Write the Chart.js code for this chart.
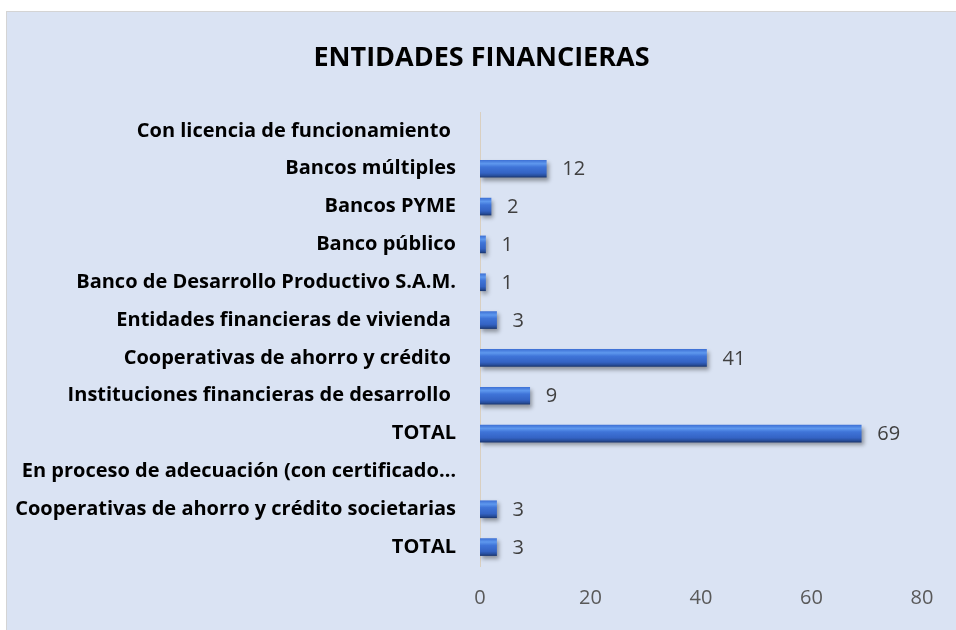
<!DOCTYPE html>
<html>
<head>
<meta charset="utf-8">
<script src="https://cdn.jsdelivr.net/npm/chart.js@4"></script>
<style>
  html, body { margin: 0; padding: 0; background: #ffffff; overflow: hidden; }
  #wrap {
    position: absolute; left: 6px; top: 11px; width: 950px; height: 619px;
    background: #dae3f3; border-left: 1px solid #d4d4d4; border-top: 1px solid #d4d4d4;
    box-sizing: border-box; overflow: hidden;
  }
  canvas { display: block; }
</style>
</head>
<body>
<div id="wrap"><canvas id="finChart" width="949" height="618"></canvas></div>
<script>
// categories and values
const categories = [
    'Con licencia de funcionamiento ',
    'Bancos múltiples',
    'Bancos PYME',
    'Banco público',
    'Banco de Desarrollo Productivo S.A.M.',
    'Entidades financieras de vivienda ',
    'Cooperativas de ahorro y crédito ',
    'Instituciones financieras de desarrollo ',
    'TOTAL',
    'En proceso de adecuación (con certificado…',
    'Cooperativas de ahorro y crédito societarias',
    'TOTAL'
];
const entidades = [null, 12, 2, 1, 1, 3, 41, 9, 69, null, 3, 3];
const xTicks = [0, 20, 40, 60, 80];

const BAR_H = 17;

function barFill(ctx) {
    const chart = ctx.chart;
    if (!chart.chartArea) return '#3b6fd3';
    const y = chart.scales.y.getPixelForValue(ctx.dataIndex);
    const g = chart.ctx.createLinearGradient(0, y - BAR_H / 2, 0, y + BAR_H / 2);
    g.addColorStop(0, '#3f72d6');
    g.addColorStop(0.2, '#5e98ee');
    g.addColorStop(0.4, '#3f74d8');
    g.addColorStop(0.75, '#3463c4');
    g.addColorStop(0.9, '#284f9e');
    g.addColorStop(1, '#1c3873');
    return g;
}

// drop shadow under the bars
const barShadow = {
    id: 'barShadow',
    beforeDatasetsDraw(chart) {
        const c = chart.ctx;
        c.save();
        c.shadowColor = 'rgba(0,0,0,0.35)';
        c.shadowBlur = 4;
        c.shadowOffsetX = 2;
        c.shadowOffsetY = 3;
    },
    afterDatasetsDraw(chart) {
        chart.ctx.restore();
    }
};

// value labels at the bar ends
const valueLabels = {
    id: 'valueLabels',
    afterDatasetsDraw(chart) {
        const c = chart.ctx;
        const meta = chart.getDatasetMeta(0);
        c.save();
        c.font = '20px "Open Sans", sans-serif';
        c.fillStyle = '#404040';
        c.textBaseline = 'middle';
        meta.data.forEach((bar, i) => {
            const v = entidades[i];
            if (v === null) return;
            c.fillText(String(v), bar.x + 16, bar.y + 1);
        });
        c.restore();
    }
};

new Chart(document.getElementById('finChart'), {
    type: 'bar',
    data: {
        labels: categories,
        datasets: [{
            data: entidades,
            backgroundColor: barFill,
            borderWidth: 0,
            barThickness: BAR_H,
            yAxisID: 'y'
        }]
    },
    options: {
        indexAxis: 'y',
        responsive: false,
        animation: false,
        layout: { padding: 0 },
        plugins: {
            legend: { display: false },
            tooltip: { enabled: false },
            title: {
                display: true,
                text: 'ENTIDADES FINANCIERAS',
                color: '#000000',
                font: { family: 'Open Sans', size: 27, weight: 'bold' },
                padding: { top: 30, bottom: 37.6 }
            }
        },
        scales: {
            x: {
                min: 0, max: 80,
                afterBuildTicks(axis) { axis.ticks = xTicks.map(v => ({ value: v })); },
                afterFit(scale) { scale.height = 64; },
                grid: { display: false },
                border: { display: false },
                ticks: { color: '#595959', font: { family: 'Open Sans', size: 20 }, padding: 12, maxRotation: 0 }
            },
            y: {
                afterFit(scale) { scale.width = 473; },
                grid: { display: false },
                border: { display: true, color: '#d9cfc0', width: 1 },
                ticks: { color: '#000000', font: { family: 'Open Sans', size: 20, weight: 'bold' }, padding: 16, autoSkip: false }
            },
            // empty spacer on the right so the plot ends where the original does
            yRight: {
                type: 'category',
                position: 'right',
                afterFit(scale) { scale.width = 34; },
                grid: { display: false },
                border: { display: false },
                ticks: { display: false }
            }
        }
    },
    plugins: [barShadow, valueLabels]
});
</script>
</body>
</html>
